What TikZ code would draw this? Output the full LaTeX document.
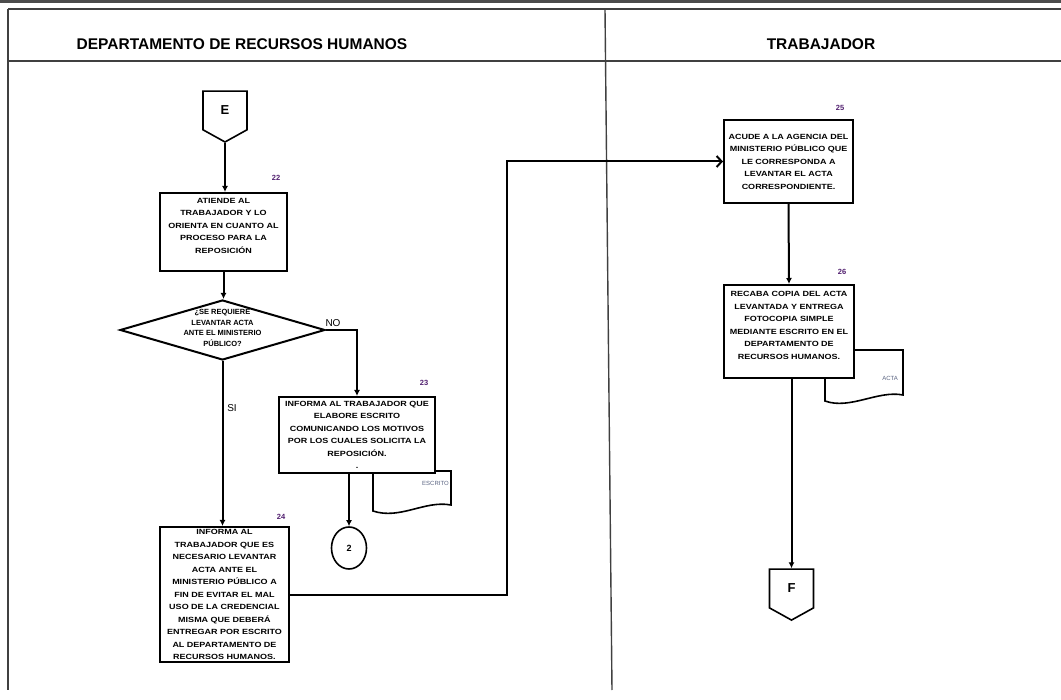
\documentclass[tikz,border=0pt]{standalone}
\usepackage{fontspec}
\setmainfont{Liberation Sans}
\newfontfamily\boxfont[FakeStretch=1.2]{Liberation Sans}
\usetikzlibrary{shapes.geometric,shapes.symbols,arrows.meta}

\definecolor{numcol}{RGB}{80,30,110}
\definecolor{doccol}{RGB}{90,100,130}

\tikzset{
  frameline/.style={line width=1.4pt, draw=black!75},
  proc/.style={draw, line width=2pt, fill=white, inner sep=2pt, align=center,
    font=\boxfont\fontsize{7.5}{12.5}\selectfont\bfseries},
  decision/.style={draw, diamond, line width=2pt, fill=white, inner sep=0pt},
  dtext/.style={align=center, font=\fontsize{7.5}{10.5}\selectfont\bfseries},
  offpage/.style={draw, signal, signal to=south, signal pointer angle=122,
    line width=1.6pt, fill=white, minimum width=44pt, minimum height=41pt,
    inner sep=0pt, font=\fontsize{13}{15}\selectfont\bfseries},
  onpage/.style={draw, ellipse, line width=1.6pt, minimum width=35pt,
    minimum height=42pt, inner sep=0pt, font=\fontsize{9}{11}\selectfont\bfseries},
  docshape/.style={draw, line width=1.6pt, fill=white},
  doclabel/.style={text=doccol, inner sep=0pt, font=\fontsize{6}{7}\selectfont},
  stepnum/.style={text=numcol, inner sep=0pt, font=\fontsize{7.5}{8}\selectfont\bfseries},
  branch/.style={inner sep=0pt, font=\fontsize{10}{12}\selectfont},
  lanehead/.style={inner sep=0pt, font=\fontsize{15.5}{18}\selectfont\bfseries},
  flow/.style={line width=2pt, -{Latex[length=6pt,width=6pt]}},
  flowopen/.style={line width=2pt, -{Straight Barb[length=5pt,width=11pt]}},
}

\begin{document}
\begin{tikzpicture}[x=1pt,y=-1pt]
\useasboundingbox (0,0) rectangle (1061,700);

% swimlane frame
\draw[line width=3pt, draw=black!70] (0,1.5) -- (1061,1.5);
\draw[frameline] (8,9) -- (1061,9);
\draw[frameline] (8,9) -- (8,690);
\draw[frameline] (8,61) -- (1061,61);
\draw[frameline] (605,9) -- (612,690);

\node[lanehead] (lane1) at (242,44) {DEPARTAMENTO DE RECURSOS HUMANOS};
\node[lanehead] (lane2) at (821,44) {TRABAJADOR};

% documents behind the process boxes
\draw[docshape] (373,471) -- (451,471) -- (451,505)
  .. controls (425,500) and (400,520) .. (373,511) -- cycle;
\node[doclabel, anchor=east] (doc23) at (449,483) {ESCRITO};

\draw[docshape] (825,350) -- (903,350) -- (903,395)
  .. controls (878,390) and (850,410) .. (825,401) -- cycle;
\node[doclabel, anchor=east] (doc26) at (898,378) {ACTA};

% left lane
\node[offpage] (E) at (225,110.5) {E};

\node[proc, minimum width=127pt, minimum height=78pt] (b22) at (223.5,232)
  {ATIENDE AL\\TRABAJADOR Y LO\\ORIENTA EN CUANTO AL\\PROCESO PARA LA\\REPOSICIÓN\\ \mbox{}};
\node[stepnum] (n22) at (276,178) {22};

\node[decision, minimum width=205pt, minimum height=60pt,
  label={[dtext, yshift=2pt]center:{¿SE REQUIERE\\LEVANTAR ACTA\\ANTE EL MINISTERIO\\PÚBLICO?}}]
  (dia) at (222.5,330) {};

\node[proc, minimum width=156pt, minimum height=76pt] (b23) at (357,435)
  {INFORMA AL TRABAJADOR QUE\\ELABORE ESCRITO\\COMUNICANDO LOS MOTIVOS\\POR LOS CUALES SOLICITA LA\\REPOSICIÓN.\\.};
\node[stepnum] (n23) at (424,383) {23};

\node[onpage] (c2) at (349,548) {2};

\node[proc, minimum width=129pt, minimum height=135pt] (b24) at (224.5,594.5)
  {INFORMA AL\\TRABAJADOR QUE ES\\NECESARIO LEVANTAR\\ACTA ANTE EL\\MINISTERIO PÚBLICO A\\FIN DE EVITAR EL MAL\\USO DE LA CREDENCIAL\\MISMA QUE DEBERÁ\\ENTREGAR POR ESCRITO\\AL DEPARTAMENTO DE\\RECURSOS HUMANOS.};
\node[stepnum] (n24) at (281,517) {24};

% right lane
\node[proc, minimum width=129pt, minimum height=83pt] (b25) at (788.5,161.5)
  {ACUDE A LA AGENCIA DEL\\MINISTERIO PÚBLICO QUE\\LE CORRESPONDA A\\LEVANTAR EL ACTA\\CORRESPONDIENTE.};
\node[stepnum] (n25) at (840,108) {25};

\node[proc, minimum width=130pt, minimum height=93pt] (b26) at (789,331.5)
  {RECABA COPIA DEL ACTA\\LEVANTADA Y ENTREGA\\FOTOCOPIA SIMPLE\\MEDIANTE ESCRITO EN EL\\DEPARTAMENTO DE\\RECURSOS HUMANOS.\\ \mbox{}};
\node[stepnum] (n26) at (842,272) {26};

\node[offpage] (F) at (791.5,588.5) {F};

% connectors
\draw[flow] (E.south) -- (E.south |- b22.north);
\draw[flow] (b22.south) -- (b22.south |- dia.north);
\draw[flow] (dia.east) -| (b23.north);
\node[branch] (lno) at (333,323) {NO};
\draw[flow] (dia.south) -- (dia.south |- b24.north);
\node[branch] (lsi) at (232,408) {SI};
\draw[flow] (b23.south -| c2) -- (c2.north);
\coordinate (turn) at (507,594.5);
\draw[flowopen] (b24.east) -- (turn) |- (b25.west);
\draw[flow] (b25.south) -- (b26.north);
\draw[flow] (b26.south -| F) -- (F.north);
\end{tikzpicture}
\end{document}
